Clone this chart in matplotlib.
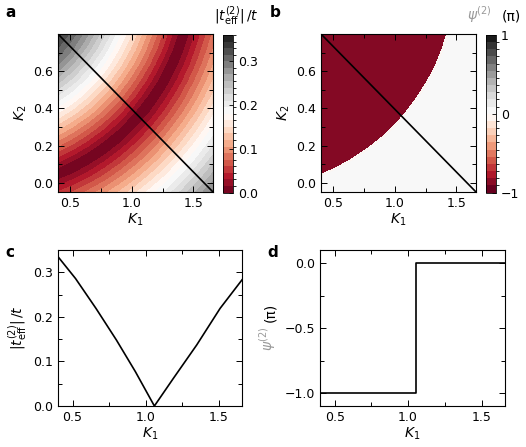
import numpy as np
import matplotlib
matplotlib.use("Agg")
import matplotlib.pyplot as plt
from matplotlib.colors import BoundaryNorm, ListedColormap
from matplotlib.cm import ScalarMappable
from matplotlib.ticker import MultipleLocator

# grid (rows = K2, columns = K1), signed effective tunneling
k1_grid = [0.400, 0.526, 0.652, 0.778, 0.904, 1.030, 1.156, 1.282, 1.408, 1.534, 1.660]
k2_grid = [-0.050, 0.035, 0.120, 0.205, 0.290, 0.375, 0.460, 0.545, 0.630, 0.715, 0.800]
t_signed = [
    [0.046, 0.061, 0.080, 0.100, 0.122, 0.147, 0.173, 0.200, 0.229, 0.259, 0.290],
    [0.005, 0.022, 0.041, 0.063, 0.087, 0.112, 0.140, 0.168, 0.198, 0.229, 0.261],
    [-0.039, -0.018, 0.004, 0.027, 0.052, 0.079, 0.107, 0.137, 0.169, 0.201, 0.234],
    [-0.083, -0.061, -0.036, -0.009, 0.018, 0.047, 0.077, 0.108, 0.140, 0.174, 0.208],
    [-0.126, -0.102, -0.076, -0.047, -0.016, 0.016, 0.047, 0.080, 0.114, 0.148, 0.184],
    [-0.168, -0.143, -0.115, -0.084, -0.050, -0.015, 0.019, 0.053, 0.088, 0.124, 0.161],
    [-0.209, -0.182, -0.151, -0.118, -0.083, -0.046, -0.007, 0.029, 0.065, 0.102, 0.140],
    [-0.249, -0.219, -0.186, -0.151, -0.113, -0.074, -0.034, 0.006, 0.044, 0.083, 0.121],
    [-0.287, -0.254, -0.218, -0.180, -0.141, -0.100, -0.058, -0.015, 0.025, 0.065, 0.105],
    [-0.315, -0.286, -0.247, -0.207, -0.165, -0.123, -0.079, -0.035, 0.009, 0.050, 0.090],
    [-0.339, -0.309, -0.273, -0.230, -0.186, -0.142, -0.096, -0.051, -0.005, 0.037, 0.078],
]

# cut along the diagonal (panels c, d)
line_k1 = [0.40, 1.66]
line_k2 = [0.80, -0.05]
cut_k1 = [0.40, 0.52, 0.66, 0.80, 0.93, 1.06, 1.19, 1.35, 1.51, 1.66]
cut_t = [0.335, 0.286, 0.219, 0.148, 0.077, 0.0, 0.062, 0.137, 0.219, 0.283]
phase_k1 = [0.40, 1.055, 1.055, 1.66]
phase_psi = [-1.0, -1.0, 0.0, 0.0]

W, H = 526, 447
plt.rcParams["font.size"] = 9
plt.rcParams["axes.linewidth"] = 0.8

fig = plt.figure(figsize=(W / 100, H / 100), dpi=100)


def px(left, top, right, bottom):
    return [left / W, 1 - bottom / H, (right - left) / W, (bottom - top) / H]


def style(ax, xminor, yminor):
    ax.xaxis.set_minor_locator(MultipleLocator(xminor))
    ax.yaxis.set_minor_locator(MultipleLocator(yminor))
    ax.tick_params(which="both", direction="in", top=True, right=True, labelsize=9)
    ax.tick_params(which="major", length=4, width=0.7)
    ax.tick_params(which="minor", length=3, width=0.7)


K1, K2 = np.meshgrid(k1_grid, k2_grid)
T = np.array(t_signed)
cmap = plt.get_cmap("RdGy")

# a: |t| bands, contoured on the signed field so the zero band stays continuous
lv = np.linspace(0, 0.36, 25)
nb = len(lv) - 1
band_colors = [cmap((i + 0.5) / nb) for i in range(nb)]
signed_levels = np.concatenate([-lv[:0:-1], lv[1:]])
signed_colors = band_colors[::-1] + band_colors[1:]
ax_a = fig.add_axes(px(58, 34, 213, 192))
ax_a.contourf(K1, K2, T, levels=signed_levels, colors=signed_colors)
ax_a.plot(line_k1, line_k2, color="k", lw=1.2)
ax_a.set_xlim(0.4, 1.66)
ax_a.set_ylim(-0.05, 0.8)
ax_a.set_xticks([0.5, 1.0, 1.5])
ax_a.set_yticks([0.0, 0.2, 0.4, 0.6])
style(ax_a, 0.25, 0.1)
ax_a.set_xlabel("$K_1$", fontsize=10, labelpad=1)
ax_a.set_ylabel("$K_2$", fontsize=10, labelpad=3)
cax_a = fig.add_axes(px(223, 35, 233, 192.5))
sm_a = ScalarMappable(norm=BoundaryNorm(lv, nb), cmap=ListedColormap(band_colors))
cb_a = fig.colorbar(sm_a, cax=cax_a, ticks=[0.0, 0.1, 0.2, 0.3])
cb_a.outline.set_linewidth(0.6)
cax_a.tick_params(direction="in", length=3, width=0.6, labelsize=9)
fig.text(236 / W, 1 - 22 / H, r"$|t_{\rm eff}^{(2)}|\,/t$", ha="center", va="baseline", fontsize=10)

# b
ax_b = fig.add_axes(px(321, 34, 476, 192))
levels_b = np.linspace(-1, 1, 23)
sm = ScalarMappable(norm=BoundaryNorm(levels_b, cmap.N), cmap=cmap)
c_neg = cmap(0.04)
c_zero = sm.to_rgba(0.0)
ax_b.contourf(K1, K2, T, levels=[-1, 0, 1], colors=[c_neg, c_zero])
ax_b.contour(K1, K2, T, levels=[0.002], colors=[sm.to_rgba(-0.05)], linewidths=1.0)
ax_b.plot(line_k1, line_k2, color="k", lw=1.2)
ax_b.set_xlim(0.4, 1.66)
ax_b.set_ylim(-0.05, 0.8)
ax_b.set_xticks([0.5, 1.0, 1.5])
ax_b.set_yticks([0.0, 0.2, 0.4, 0.6])
style(ax_b, 0.25, 0.1)
ax_b.set_xlabel("$K_1$", fontsize=10, labelpad=1)
ax_b.set_ylabel("$K_2$", fontsize=10, labelpad=3)
cax_b = fig.add_axes(px(486, 35, 496, 192.5))
cb_b = fig.colorbar(sm, cax=cax_b, ticks=[-1, 0, 1])
cb_b.outline.set_linewidth(0.6)
cb_b.ax.set_yticklabels(["\u22121", "0", "1"])
cax_b.tick_params(direction="in", length=3, width=0.6, labelsize=9)
fig.text(479 / W, 1 - 20 / H, r"$\psi^{(2)}$", ha="center", va="baseline", fontsize=10, color="#9a9a9a")
fig.text(511 / W, 1 - 20 / H, "(\u03c0)", ha="center", va="baseline", fontsize=10)

# c
ax_c = fig.add_axes(px(58, 250, 242, 406))
ax_c.plot(cut_k1, cut_t, color="k", lw=1.2)
ax_c.set_xlim(0.4, 1.66)
ax_c.set_ylim(0, 0.35)
ax_c.set_xticks([0.5, 1.0, 1.5])
ax_c.set_yticks([0.0, 0.1, 0.2, 0.3])
style(ax_c, 0.25, 0.05)
ax_c.set_xlabel("$K_1$", fontsize=10, labelpad=1)
ax_c.set_ylabel(r"$|t_{\rm eff}^{(2)}|\,/t$", fontsize=10, labelpad=2)

# d
ax_d = fig.add_axes(px(320, 250, 505, 406))
ax_d.plot(phase_k1, phase_psi, color="k", lw=1.2)
ax_d.set_xlim(0.4, 1.66)
ax_d.set_ylim(-1.1, 0.1)
ax_d.set_xticks([0.5, 1.0, 1.5])
ax_d.set_yticks([0.0, -0.5, -1.0])
style(ax_d, 0.25, 0.25)
ax_d.set_xlabel("$K_1$", fontsize=10, labelpad=1)
fig.text(268 / W, 1 - 326 / H, r"$\psi^{(2)}$", rotation=90, ha="center", va="top",
         fontsize=10, color="#9a9a9a")
fig.text(270 / W, 1 - 322 / H, "(\u03c0)", rotation=90, ha="center", va="bottom", fontsize=10)

for lbl, x, y in [("a", 5, 17), ("b", 270, 17), ("c", 5, 257), ("d", 267, 257)]:
    fig.text(x / W, 1 - y / H, lbl, fontsize=11, fontweight="bold", va="baseline")

fig.savefig("out.png", dpi=100)
